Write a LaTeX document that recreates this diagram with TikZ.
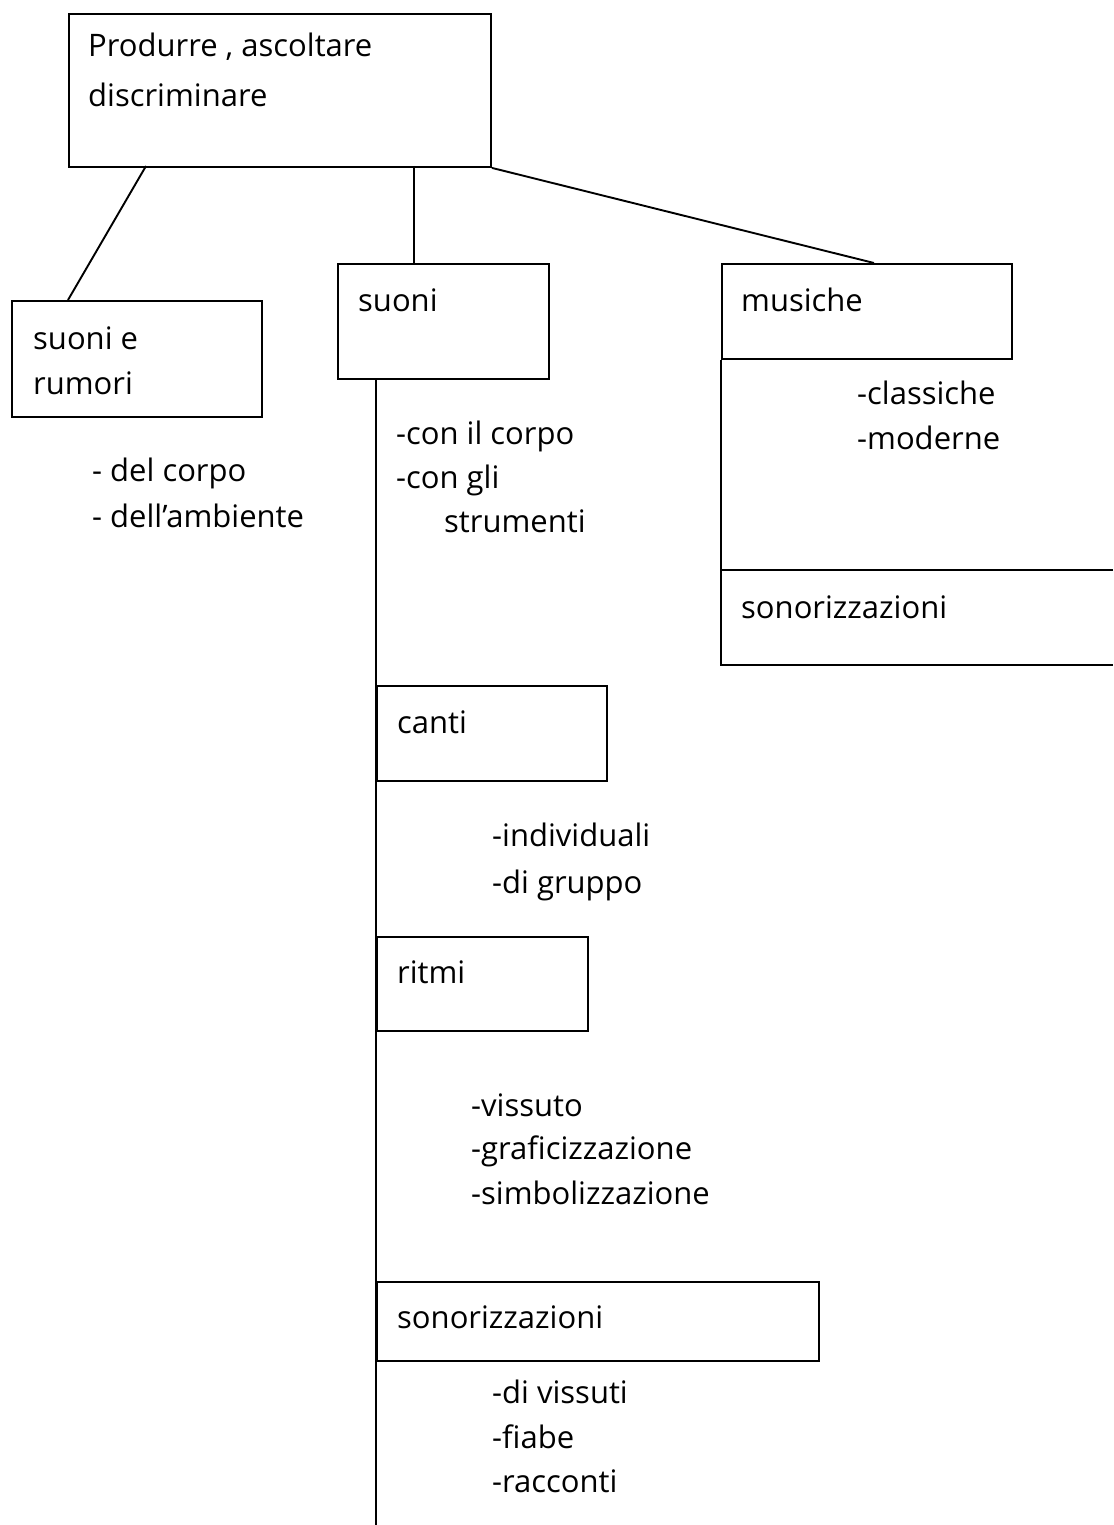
\documentclass[tikz,border=0pt]{standalone}
\usepackage{fontspec}
\setmainfont{Open Sans}
\begin{document}
\begin{tikzpicture}[x=1pt,y=-1pt,
  box/.style={draw,line width=1.9pt,rectangle,anchor=north west,inner sep=0pt,minimum width=#1},
  lbl/.style={anchor=mid west,inner sep=0pt,yshift=-9pt,font=\fontsize{31}{36}\selectfont},
  conn/.style={line width=1.9pt}]
\useasboundingbox (0,0) rectangle (1113,1525);
% boxes
\node[box=422pt,minimum height=153pt] (top) at (68,13) {};
\node[box=250pt,minimum height=116pt] (rum) at (11,300) {};
\node[box=211pt,minimum height=115pt] (suo) at (337,263) {};
\node[box=290pt,minimum height=95pt] (mus) at (721,263) {};
\node[box=230pt,minimum height=95pt] (can) at (376,685) {};
\node[box=211pt,minimum height=94pt] (rit) at (376,936) {};
\node[box=442pt,minimum height=79pt] (son) at (376,1281) {};
% open box at right edge
\coordinate (sr1) at (1113,570);
\coordinate (sr2) at (721,570);
\coordinate (sr3) at (721,665);
\coordinate (sr4) at (1113,665);
\draw[conn] (sr1) -- (sr2) -- (sr3) -- (sr4);
% connectors
\coordinate (t1) at (146,166);
\coordinate (t2) at (414,166);
\coordinate (r1) at (68,300);
\coordinate (s1) at (414,263);
\coordinate (m1) at (874,263);
\coordinate (sb) at (376,378);
\coordinate (bot) at (376,1525);
\draw[conn] (t1) -- (r1);
\draw[conn] (t2) -- (s1);
\draw[conn] (top.south east) -- (m1);
\draw[conn] (mus.south west) -- (sr2);
\draw[conn] (sb) -- (bot);
% texts
\node[lbl] (a1) at (88,45) {Produrre , ascoltare};
\node[lbl] (a2) at (88,95) {discriminare};
\node[lbl] (b1) at (33,338) {suoni e};
\node[lbl] (b2) at (33,383) {rumori};
\node[lbl] (b3) at (92,470) {- del corpo};
\node[lbl] (b4) at (92,516) {- dell’ambiente};
\node[lbl] (c1) at (358,300) {suoni};
\node[lbl] (c2) at (396,433) {-con il corpo};
\node[lbl] (c3) at (396,477) {-con gli};
\node[lbl] (c4) at (444,521) {strumenti};
\node[lbl] (d1) at (741,300) {musiche};
\node[lbl] (d2) at (857,393) {-classiche};
\node[lbl] (d3) at (857,438) {-moderne};
\node[lbl] (d4) at (741,607) {sonorizzazioni};
\node[lbl] (e1) at (397,722) {canti};
\node[lbl] (e2) at (492,835) {-individuali};
\node[lbl] (e3) at (492,882) {-di gruppo};
\node[lbl] (f1) at (397,972) {ritmi};
\node[lbl] (f2) at (471,1105) {-vissuto};
\node[lbl] (f3) at (471,1148) {-graficizzazione};
\node[lbl] (f4) at (471,1193) {-simbolizzazione};
\node[lbl] (g1) at (397,1317) {sonorizzazioni};
\node[lbl] (g2) at (492,1392) {-di vissuti};
\node[lbl] (g3) at (492,1437) {-fiabe};
\node[lbl] (g4) at (492,1481) {-racconti};
\end{tikzpicture}
\end{document}
